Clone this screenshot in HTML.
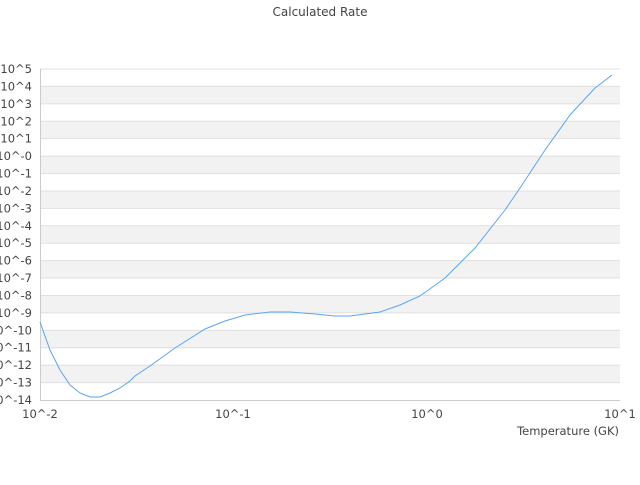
<!DOCTYPE html>
<html><head><style>
body{margin:0;background:#fff}
svg text{font-family:"DejaVu Sans","Liberation Sans",sans-serif;fill:#444}
</style></head><body>
<svg width="640" height="480" xmlns="http://www.w3.org/2000/svg">
<text x="320" y="16" font-size="12" text-anchor="middle" fill="#333">Calculated Rate</text>
<g fill="#f2f2f2">
<rect x="40" y="86.42" width="580" height="17.42"/>
<rect x="40" y="121.26" width="580" height="17.42"/>
<rect x="40" y="156.11" width="580" height="17.42"/>
<rect x="40" y="190.95" width="580" height="17.42"/>
<rect x="40" y="225.79" width="580" height="17.42"/>
<rect x="40" y="260.63" width="580" height="17.42"/>
<rect x="40" y="295.47" width="580" height="17.42"/>
<rect x="40" y="330.32" width="580" height="17.42"/>
<rect x="40" y="365.16" width="580" height="17.42"/>
</g>
<g stroke="#e0e0e0">
<line x1="40" x2="620" y1="69" y2="69"/>
<line x1="40" x2="620" y1="86.42" y2="86.42"/>
<line x1="40" x2="620" y1="103.84" y2="103.84"/>
<line x1="40" x2="620" y1="121.26" y2="121.26"/>
<line x1="40" x2="620" y1="138.68" y2="138.68"/>
<line x1="40" x2="620" y1="156.11" y2="156.11"/>
<line x1="40" x2="620" y1="173.53" y2="173.53"/>
<line x1="40" x2="620" y1="190.95" y2="190.95"/>
<line x1="40" x2="620" y1="208.37" y2="208.37"/>
<line x1="40" x2="620" y1="225.79" y2="225.79"/>
<line x1="40" x2="620" y1="243.21" y2="243.21"/>
<line x1="40" x2="620" y1="260.63" y2="260.63"/>
<line x1="40" x2="620" y1="278.05" y2="278.05"/>
<line x1="40" x2="620" y1="295.47" y2="295.47"/>
<line x1="40" x2="620" y1="312.89" y2="312.89"/>
<line x1="40" x2="620" y1="330.32" y2="330.32"/>
<line x1="40" x2="620" y1="347.74" y2="347.74"/>
<line x1="40" x2="620" y1="365.16" y2="365.16"/>
<line x1="40" x2="620" y1="382.58" y2="382.58"/>
</g>
<g font-size="11.5" text-anchor="end">
<text x="32" y="73">10^5</text>
<text x="32" y="90.42">10^4</text>
<text x="32" y="107.84">10^3</text>
<text x="32" y="125.26">10^2</text>
<text x="32" y="142.68">10^1</text>
<text x="32" y="160.11">10^-0</text>
<text x="32" y="177.53">10^-1</text>
<text x="32" y="194.95">10^-2</text>
<text x="32" y="212.37">10^-3</text>
<text x="32" y="229.79">10^-4</text>
<text x="32" y="247.21">10^-5</text>
<text x="32" y="264.63">10^-6</text>
<text x="32" y="282.05">10^-7</text>
<text x="32" y="299.47">10^-8</text>
<text x="32" y="316.89">10^-9</text>
<text x="32" y="334.32">10^-10</text>
<text x="32" y="351.74">10^-11</text>
<text x="32" y="369.16">10^-12</text>
<text x="32" y="386.58">10^-13</text>
<text x="32" y="404">10^-14</text>
</g>
<line x1="40.5" y1="69" x2="40.5" y2="400" stroke="#ccc"/>
<line x1="40" y1="400.5" x2="620" y2="400.5" stroke="#ccc"/>
<polyline fill="none" stroke="#5aa5f0" stroke-width="1" points="40,322 50,350 60,370 70,385 80,393 90,397 100,397 110,393 120,388 130,381 135,376 150,366 175,348 205,329 225,321 245,315 270,312 290,312 315,314 335,316 350,316 380,312 400,305 420,296 445,278 475,248 505,210 520,188 545,150 570,115 595,88 612,75"/>
<g font-size="11.5">
<text x="40" y="418" text-anchor="middle">10^-2</text>
<text x="233" y="418" text-anchor="middle">10^-1</text>
<text x="427" y="418" text-anchor="middle">10^0</text>
<text x="620" y="418" text-anchor="middle">10^1</text>
<text x="619" y="435" text-anchor="end">Temperature (GK)</text>
</g>
</svg>
</body></html>
